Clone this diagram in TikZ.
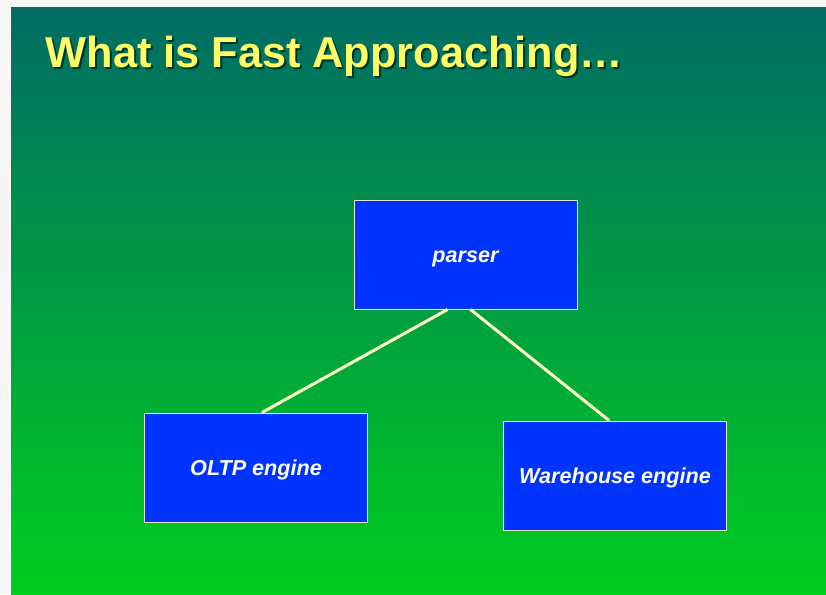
\documentclass[tikz,border=0pt]{standalone}
\usepackage{fontspec}
\setmainfont{Liberation Sans}
\usetikzlibrary{calc}
\definecolor{pagegray}{HTML}{F7F7F7}
\definecolor{slidetop}{RGB}{0,108,100}
\definecolor{slidebottom}{RGB}{0,206,30}
\definecolor{titleyellow}{HTML}{FFFF66}
\definecolor{boxblue}{HTML}{0033FF}
\definecolor{boxedge}{HTML}{E6E6C8}
\definecolor{linkcream}{HTML}{FFFFC4}
\definecolor{labelwhite}{HTML}{FFFFF2}
\begin{document}
\begin{tikzpicture}[x=1pt,y=-1pt,
  enginebox/.style={draw=boxedge, line width=1pt, fill=boxblue,
    minimum width=223pt, minimum height=109pt, inner sep=0pt,
    text height=16pt, text depth=1pt,
    font=\fontsize{21.6}{25}\selectfont\bfseries\itshape, text=labelwhite},
  link/.style={draw=linkcream, line width=3pt},
  titletext/.style={anchor=base west, inner sep=0pt,
    font=\fontsize{43.3}{50}\selectfont\bfseries}]
  % page and slide background
  \useasboundingbox (0,0) rectangle (826,594);
  \fill[pagegray] (0,0) rectangle (826,594);
  \shade[top color=slidetop, bottom color=slidebottom] (11,8) rectangle (826,594);
  % title with drop shadow
  \node[titletext, text=black, opacity=0.55] (titleshadow) at (47.5,69.5) {What is Fast Approaching…};
  \node[titletext, text=titleyellow] (title) at (45.5,67) {What is Fast Approaching…};
  % boxes
  \node[enginebox] (parser) at (465.5,254.5) {parser};
  \node[enginebox] (oltp) at (256,467.5) {OLTP engine};
  \node[enginebox] (warehouse) at (615,475.5) {Warehouse engine};
  % connectors
  \draw[link] ([xshift=-18pt]parser.south) -- ([xshift=6pt]oltp.north);
  \draw[link] ([xshift=5pt]parser.south) -- ([xshift=-6pt]warehouse.north);
\end{tikzpicture}
\end{document}
